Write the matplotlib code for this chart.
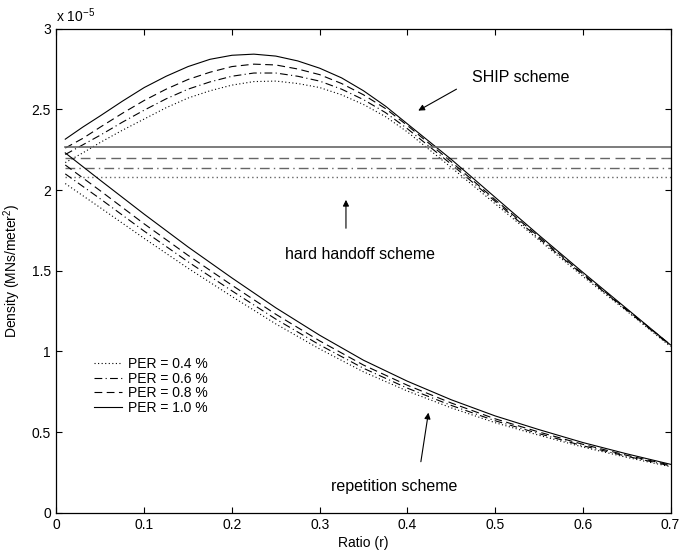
import numpy as np
import matplotlib
matplotlib.use('Agg')
import matplotlib.pyplot as plt

plt.rcParams['font.family'] = ['Liberation Sans', 'DejaVu Sans']
plt.rcParams['mathtext.fontset'] = 'custom'
plt.rcParams['mathtext.rm'] = 'Liberation Sans'

# SHIP scheme (x 1e-5), read on a finer grid around the peak
ship_ratio = [0.01, 0.03, 0.05, 0.075, 0.10, 0.125, 0.15, 0.175, 0.20, 0.225, 0.25, 0.275,
              0.30, 0.325, 0.35, 0.375, 0.40, 0.45, 0.50, 0.55, 0.60, 0.65, 0.70]
ship_10 = [2.315, 2.39, 2.46, 2.55, 2.635, 2.705, 2.765, 2.81, 2.835, 2.842, 2.83, 2.80,
           2.755, 2.695, 2.615, 2.52, 2.41, 2.19, 1.955, 1.72, 1.49, 1.265, 1.04]
ship_08 = [2.26, 2.32, 2.39, 2.475, 2.555, 2.625, 2.685, 2.73, 2.765, 2.78, 2.775, 2.75,
           2.715, 2.66, 2.59, 2.505, 2.40, 2.175, 1.94, 1.71, 1.48, 1.26, 1.04]
ship_06 = [2.22, 2.28, 2.34, 2.42, 2.495, 2.565, 2.625, 2.67, 2.705, 2.725, 2.725, 2.705,
           2.675, 2.625, 2.56, 2.48, 2.38, 2.16, 1.93, 1.70, 1.475, 1.255, 1.035]
ship_04 = [2.17, 2.23, 2.295, 2.37, 2.44, 2.51, 2.57, 2.615, 2.65, 2.672, 2.675, 2.66,
           2.635, 2.59, 2.53, 2.455, 2.36, 2.14, 1.915, 1.69, 1.465, 1.25, 1.03]

# repetition scheme (x 1e-5)
rep_ratio = [0.01, 0.05, 0.10, 0.15, 0.20, 0.25, 0.30, 0.35, 0.40, 0.45, 0.50, 0.55, 0.60, 0.65, 0.70]
rep_10 = [2.23, 2.06, 1.85, 1.647, 1.455, 1.27, 1.10, 0.945, 0.815, 0.70, 0.60, 0.515, 0.435, 0.365, 0.30]
rep_08 = [2.155, 1.995, 1.79, 1.595, 1.41, 1.23, 1.065, 0.915, 0.79, 0.68, 0.582, 0.50, 0.424, 0.356, 0.295]
rep_06 = [2.10, 1.945, 1.745, 1.555, 1.375, 1.20, 1.04, 0.895, 0.772, 0.665, 0.57, 0.49, 0.415, 0.35, 0.29]
rep_04 = [2.04, 1.89, 1.70, 1.515, 1.34, 1.17, 1.015, 0.873, 0.754, 0.65, 0.558, 0.48, 0.407, 0.343, 0.285]

# hard handoff scheme: flat over the whole range
hard_x = [0.01, 0.70]
hard_levels = {'1.0': 2.269, '0.8': 2.199, '0.6': 2.135, '0.4': 2.078}

per_labels = ['PER = 0.4 %', 'PER = 0.6 %', 'PER = 0.8 %', 'PER = 1.0 %']
styles = {
    '0.4': (0, (1, 2.2)),
    '0.6': (0, (7, 3, 1, 3)),
    '0.8': (0, (7, 4)),
    '1.0': '-',
}

fig = plt.figure(figsize=(6.79, 5.51), dpi=100)
ax = fig.add_axes([0.0832, 0.0695, 0.9043, 0.8785])

lw = 0.8
ship = {'0.4': ship_04, '0.6': ship_06, '0.8': ship_08, '1.0': ship_10}
rep = {'0.4': rep_04, '0.6': rep_06, '0.8': rep_08, '1.0': rep_10}

handles = []
for key, lab in zip(['0.4', '0.6', '0.8', '1.0'], per_labels):
    h, = ax.plot(ship_ratio, ship[key], color='k', lw=lw, linestyle=styles[key], label=lab)
    ax.plot(rep_ratio, rep[key], color='k', lw=lw, linestyle=styles[key])
    lvl = hard_levels[key]
    ax.plot(hard_x, [lvl, lvl], color='0.4', lw=1.2 if key == '1.0' else 1.0, linestyle=styles[key])
    handles.append(h)

fs = 10
ax.set_xlim(0, 0.7)
ax.set_ylim(0, 3)
ax.set_xticks(np.arange(0, 0.71, 0.1))
ax.set_xticklabels(['0', '0.1', '0.2', '0.3', '0.4', '0.5', '0.6', '0.7'])
ax.set_yticks(np.arange(0, 3.01, 0.5))
ax.set_yticklabels(['0', '0.5', '1', '1.5', '2', '2.5', '3'])
ax.tick_params(direction='in', top=True, right=True, labelsize=fs, length=4, width=0.8, pad=4)
for sp in ax.spines.values():
    sp.set_linewidth(0.9)

ax.text(0.0, 1.008, r'x 10$^{-5}$', transform=ax.transAxes, fontsize=fs, ha='left', va='bottom')
ax.set_xlabel('Ratio (r)', fontsize=fs, labelpad=3)
ax.set_ylabel(r'Density (MNs/meter$^2$)', fontsize=fs, labelpad=6)

afs = 11.5
arrow = dict(arrowstyle='-|>', color='k', lw=0.8, mutation_scale=9, shrinkA=0, shrinkB=0)
ax.annotate('', xy=(0.4124, 2.492), xytext=(0.456, 2.625), arrowprops=arrow)
ax.text(0.529, 2.70, 'SHIP scheme', fontsize=afs, ha='center', va='center')
ax.annotate('', xy=(0.330, 1.939), xytext=(0.330, 1.763), arrowprops=arrow)
ax.text(0.346, 1.603, 'hard handoff scheme', fontsize=afs, ha='center', va='center')
ax.annotate('', xy=(0.424, 0.62), xytext=(0.4154, 0.316), arrowprops=arrow)
ax.text(0.385, 0.16, 'repetition scheme', fontsize=afs, ha='center', va='center')

ax.legend(handles=handles, loc='upper left', bbox_to_anchor=(0.061, 0.322), frameon=False,
          fontsize=fs, handlelength=2.0, handletextpad=0.43, labelspacing=0.05,
          borderpad=0, borderaxespad=0)

fig.savefig('out.png', dpi=100)
